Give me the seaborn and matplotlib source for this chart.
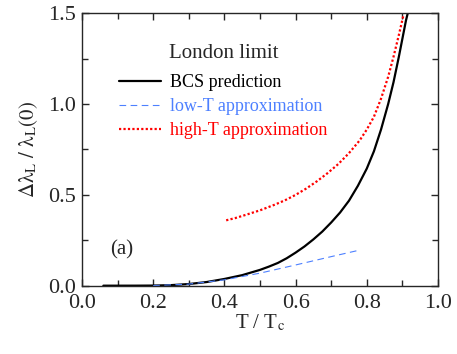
import numpy as np
import pandas as pd
import matplotlib
matplotlib.use("Agg")
import matplotlib.pyplot as plt
import seaborn as sns
from matplotlib.ticker import MultipleLocator

# Data
bcs_t = [0.06, 0.10, 0.15, 0.20, 0.25, 0.30, 0.35, 0.40, 0.45, 0.50, 0.525, 0.55, 0.575,
         0.60, 0.625, 0.65, 0.675, 0.70, 0.725, 0.75, 0.775, 0.80, 0.82, 0.84,
         0.86, 0.875, 0.89, 0.90, 0.91, 0.915]
bcs_y = [0.0, 0.0, 0.0001, 0.0006, 0.003, 0.009, 0.02, 0.037, 0.058, 0.087, 0.105, 0.125, 0.151,
         0.182, 0.216, 0.255, 0.298, 0.348, 0.403, 0.468, 0.55, 0.645, 0.74, 0.86,
         1.0, 1.12, 1.26, 1.36, 1.46, 1.5]

low_t = [0.20, 0.30, 0.40, 0.50, 0.60, 0.70, 0.78]
low_y = [0.0005, 0.0085, 0.032, 0.069, 0.114, 0.160, 0.196]

high_t = [0.405, 0.43, 0.46, 0.50, 0.54, 0.57, 0.60, 0.63, 0.66, 0.69, 0.72, 0.75,
          0.78, 0.80, 0.82, 0.84, 0.86, 0.875, 0.89, 0.903]
high_y = [0.36, 0.372, 0.39, 0.415, 0.445, 0.47, 0.50, 0.535, 0.575, 0.62, 0.67, 0.73,
          0.80, 0.86, 0.93, 1.03, 1.15, 1.26, 1.38, 1.49]

sns.set_style("ticks")
plt.rcParams['font.family'] = ['Liberation Serif', 'DejaVu Serif']
plt.rcParams['mathtext.fontset'] = 'stix'

fig = plt.figure(figsize=(4.57, 3.54), dpi=100)
ax = fig.add_axes([0.1794, 0.193, 0.779, 0.7694])

blue = '#4d80ff'
red = '#ff0000'

sns.lineplot(x=bcs_t, y=bcs_y, ax=ax, color='black', lw=1.6, label='BCS prediction')
sns.lineplot(x=low_t, y=low_y, ax=ax, color=blue, lw=0.8, label='low-T approximation')
sns.lineplot(x=high_t, y=high_y, ax=ax, color=red, lw=1.6, label='high-T approximation')
ax.lines[1].set_linestyle((0, (6, 4)))
ax.lines[2].set_linestyle((0, (1, 1)))

ax.set_xlim(0, 1.0)
ax.set_ylim(0, 1.5)
ax.xaxis.set_major_locator(MultipleLocator(0.2))
ax.xaxis.set_minor_locator(MultipleLocator(0.1))
ax.yaxis.set_major_locator(MultipleLocator(0.5))
ax.yaxis.set_minor_locator(MultipleLocator(0.25))
ax.set_xticklabels([f'{v:.1f}' for v in ax.get_xticks()])
ax.set_yticklabels([f'{v:.1f}' for v in ax.get_yticks()])
ax.tick_params(which='both', direction='in', top=True, right=True, labelsize=16, width=1)
ax.tick_params(which='major', length=5)
ax.tick_params(which='minor', length=4)
ax.tick_params(axis='x', pad=6)
ax.tick_params(axis='y', pad=4)
for s in ax.spines.values():
    s.set_linewidth(1)
    s.set_visible(True)

ax.set_xlabel(r'T / T$_\mathrm{c}$', fontsize=15, labelpad=0)
ax.set_ylabel(r'$\Delta\mathrm{\lambda}_\mathrm{L}\ /\ \mathrm{\lambda}_\mathrm{L}(0)$', fontsize=15, labelpad=6)

leg = ax.legend(title='London limit', loc='upper left', bbox_to_anchor=(0.105, 0.888),
                frameon=False, fontsize=13, title_fontsize=15, handlelength=2.3,
                handletextpad=0.5, labelspacing=0.4, borderpad=0, borderaxespad=0)
leg._legend_box.sep = 8
for txt, c in zip(leg.get_texts(), ['black', blue, red]):
    txt.set_color(c)

ax.text(0.08, 0.20, '(a)', fontsize=15, ha='left', va='center')

fig.savefig('out.png', dpi=100)
